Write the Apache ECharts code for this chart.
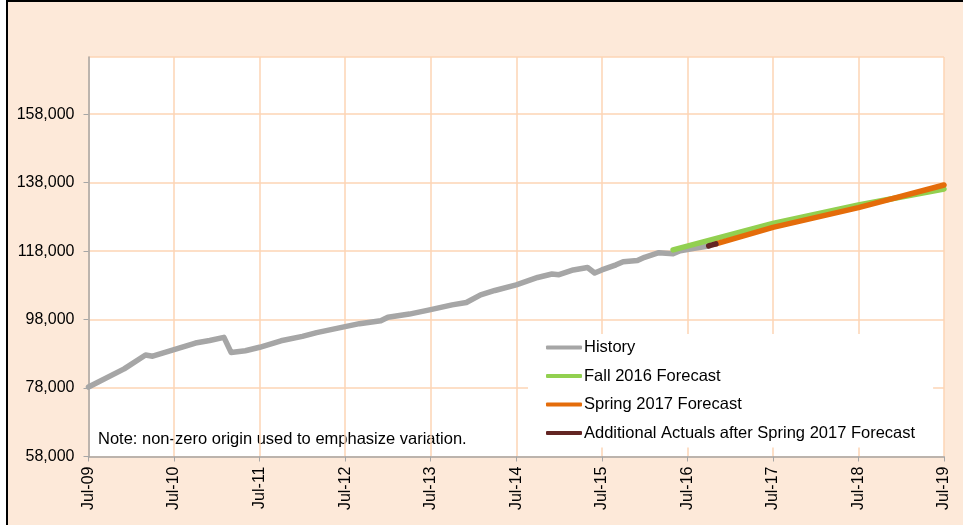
<!DOCTYPE html>
<html>
<head>
<meta charset="utf-8">
<script src="https://cdn.jsdelivr.net/npm/echarts@6/dist/echarts.min.js"></script>
<style>
html,body{margin:0;padding:0;background:#fff;width:963px;height:525px;overflow:hidden;}
#frame{position:absolute;left:6px;top:0;width:957px;height:525px;box-sizing:border-box;border-left:2px solid #000;border-top:2px solid #000;background:#fde9d9;}
#chart{position:absolute;left:0;top:0;width:963px;height:525px;}
</style>
</head>
<body>
<div id="frame"></div>
<div id="chart"></div>
<script>
// X tick labels (one per July, every 12 months from Jul-09)
var xTickLabels = ['Jul-09','Jul-10','Jul-11','Jul-12','Jul-13','Jul-14','Jul-15','Jul-16','Jul-17','Jul-18','Jul-19'];
// Series: [months since Jul-09, value]
var historyData = [
  [0,78300],[5,83600],[8,87650],[9,87300],[12,89200],[15,91150],[17,91900],[19,92800],
  [20,88400],[22,88900],[24,89900],[27,91800],[30,93100],[32,94200],[35,95500],[38,96800],
  [41,97650],[42,98700],[45,99600],[48,100900],[51,102300],[53,103000],[55,105200],[57,106500],
  [60,108150],[63,110300],[65,111300],[66,111100],[68,112500],[70,113200],[71,111600],[72,112500],
  [74,114000],[75,114900],[77,115250],[78,116200],[80,117550],[82,117200],[83,118100],[85,118800],[87,119500]
];
var fall2016Data = [[82,118350],[96,126100],[108,131450],[120,136150]];
var spring2017Data = [[88,120100],[96,124950],[108,130700],[120,137300]];
var additionalActualsData = [[87,119500],[88,120100]];
var seriesNames = ['History','Fall 2016 Forecast','Spring 2017 Forecast','Additional Actuals after Spring 2017 Forecast'];
var yMin = 58000, yMax = 174700, yStep = 20000;

var chart = echarts.init(document.getElementById('chart'));
var FONT = 'Liberation Sans, Arial, sans-serif';
function lineSeries(name, data, color){
  return {name:name, type:'line', data:data, symbol:'none', smooth:false, connectNulls:true,
    lineStyle:{color:color, width:5.5, cap:'round', join:'round'}, itemStyle:{color:color}, animation:false};
}
chart.setOption({
  backgroundColor:'transparent',
  animation:false,
  grid:{left:88.5, right:19, top:57, bottom:68.5, show:true, backgroundColor:'#ffffff', borderWidth:0, containLabel:false},
  xAxis:{type:'value', min:0, max:120, interval:12,
    axisLine:{show:true, onZero:false, lineStyle:{color:'#a6a6a6', width:1.5}},
    axisTick:{show:true, length:5, lineStyle:{color:'#a6a6a6'}},
    splitLine:{show:true, lineStyle:{color:'#fcd5b4', width:1.5}},
    axisLabel:{rotate:90, margin:10, fontFamily:FONT, fontSize:16, color:'#000',
      formatter:function(v){return xTickLabels[Math.round(v/12)] || '';}}
  },
  yAxis:{type:'value', min:yMin, max:yMax, interval:yStep,
    axisLine:{show:true, lineStyle:{color:'#a6a6a6', width:1.5}},
    axisTick:{show:true, length:5, lineStyle:{color:'#a6a6a6'}},
    splitLine:{show:true, lineStyle:{color:'#fcd5b4', width:1.5}},
    axisLabel:{margin:14, fontFamily:FONT, fontSize:16, color:'#000', showMaxLabel:false,
      formatter:function(v){ if((v-yMin)%yStep!==0) return ''; return v.toLocaleString('en-US');}}
  },
  legend:{orient:'vertical', left:528, top:334, width:410,
    backgroundColor:'#ffffff', padding:[5,18,6,18], itemGap:11.5,
    itemWidth:36, itemHeight:4, icon:'roundRect',
    textStyle:{fontFamily:FONT, fontSize:16.5, color:'#000', lineHeight:17, padding:[0,0,0,-3]},
    data:seriesNames},
  graphic:[{type:'text', left:98, top:431, style:{text:'Note: non-zero origin used to emphasize variation.', font:'16.5px Liberation Sans, Arial, sans-serif', fill:'#000'}}],
  series:[
    lineSeries(seriesNames[0], historyData, '#a6a6a6'),
    lineSeries(seriesNames[1], fall2016Data, '#92d050'),
    lineSeries(seriesNames[2], spring2017Data, '#e46c0a'),
    lineSeries(seriesNames[3], additionalActualsData, '#632523')
  ]
});
</script>
</body>
</html>
